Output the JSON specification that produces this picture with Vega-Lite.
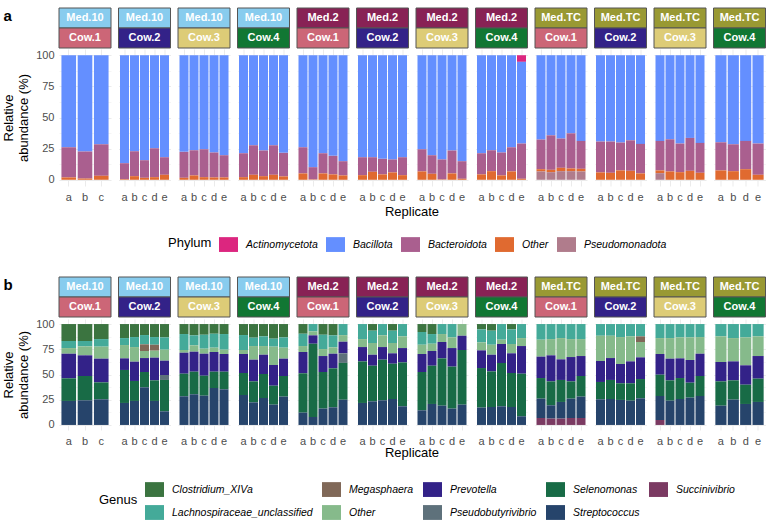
{
  "$schema": "https://vega.github.io/schema/vega-lite/v6.json",
  "padding": {"left": 2, "top": 7, "right": 5, "bottom": 0},
  "config": {
    "font": "Liberation Sans",
    "view": {"stroke": null},
    "axis": {"labelColor": "#4D4D4D", "labelFontSize": 11, "ticks": false, "domain": false, "gridColor": "#EBEBEB", "titleFontWeight": "normal", "titleColor": "#000000", "titleFontSize": 13},
    "legend": {"labelFontSize": 10.5, "labelFontStyle": "italic", "labelColor": "#000000", "titleFontWeight": "normal", "titleFontSize": 13, "titleColor": "#000000", "titlePadding": 7, "symbolType": "M-1,-0.78H1V0.78H-1Z", "symbolSize": 361, "symbolStrokeWidth": 0, "symbolOpacity": 1},
    "header": {"titleFontWeight": "normal", "titleFontSize": 13, "titleColor": "#000000"}
  },
  "datasets": {
    "phy": [
      {"m":"Med.10","c":"Cow.1","r":"a","Bacillota":73.9,"Bacteroidota":24.2,"Other":1.9},
      {"m":"Med.10","c":"Cow.1","r":"b","Bacillota":77.3,"Bacteroidota":21.7,"Other":1.0},
      {"m":"Med.10","c":"Cow.1","r":"c","Bacillota":71.5,"Bacteroidota":25.3,"Other":3.2},
      {"m":"Med.10","c":"Cow.2","r":"a","Bacillota":86.7,"Bacteroidota":12.8,"Other":0.5},
      {"m":"Med.10","c":"Cow.2","r":"b","Bacillota":77.1,"Bacteroidota":20.0,"Other":2.9},
      {"m":"Med.10","c":"Cow.2","r":"c","Bacillota":84.3,"Bacteroidota":14.1,"Other":1.6},
      {"m":"Med.10","c":"Cow.2","r":"d","Bacillota":74.7,"Bacteroidota":23.2,"Other":2.1},
      {"m":"Med.10","c":"Cow.2","r":"e","Bacillota":81.9,"Bacteroidota":14.1,"Other":4.0},
      {"m":"Med.10","c":"Cow.3","r":"a","Bacillota":77.6,"Bacteroidota":20.8,"Other":1.6},
      {"m":"Med.10","c":"Cow.3","r":"b","Bacillota":76.3,"Bacteroidota":20.2,"Other":3.5},
      {"m":"Med.10","c":"Cow.3","r":"c","Bacillota":75.5,"Bacteroidota":22.4,"Other":2.1},
      {"m":"Med.10","c":"Cow.3","r":"d","Bacillota":78.1,"Bacteroidota":20.0,"Other":1.9},
      {"m":"Med.10","c":"Cow.3","r":"e","Bacillota":80.3,"Bacteroidota":17.8,"Other":1.9},
      {"m":"Med.10","c":"Cow.4","r":"a","Bacillota":78.7,"Bacteroidota":19.2,"Other":2.1},
      {"m":"Med.10","c":"Cow.4","r":"b","Bacillota":72.3,"Bacteroidota":23.7,"Other":4.0},
      {"m":"Med.10","c":"Cow.4","r":"c","Bacillota":76.5,"Bacteroidota":20.6,"Other":2.9},
      {"m":"Med.10","c":"Cow.4","r":"d","Bacillota":72.3,"Bacteroidota":23.7,"Other":4.0},
      {"m":"Med.10","c":"Cow.4","r":"e","Bacillota":78.4,"Bacteroidota":18.9,"Other":2.7},
      {"m":"Med.2","c":"Cow.1","r":"a","Bacillota":73.9,"Bacteroidota":21.0,"Other":5.1},
      {"m":"Med.2","c":"Cow.1","r":"b","Bacillota":89.9,"Bacteroidota":9.8,"Other":0.3},
      {"m":"Med.2","c":"Cow.1","r":"c","Bacillota":78.7,"Bacteroidota":16.2,"Other":5.1},
      {"m":"Med.2","c":"Cow.1","r":"d","Bacillota":80.8,"Bacteroidota":14.9,"Other":4.3},
      {"m":"Med.2","c":"Cow.1","r":"e","Bacillota":85.1,"Bacteroidota":11.4,"Other":3.5},
      {"m":"Med.2","c":"Cow.2","r":"a","Bacillota":81.9,"Bacteroidota":14.4,"Other":3.7},
      {"m":"Med.2","c":"Cow.2","r":"b","Bacillota":81.9,"Bacteroidota":11.7,"Other":6.4},
      {"m":"Med.2","c":"Cow.2","r":"c","Bacillota":83.2,"Bacteroidota":12.5,"Other":4.3},
      {"m":"Med.2","c":"Cow.2","r":"d","Bacillota":83.7,"Bacteroidota":10.4,"Other":5.9},
      {"m":"Med.2","c":"Cow.2","r":"e","Bacillota":81.9,"Bacteroidota":14.4,"Other":3.7},
      {"m":"Med.2","c":"Cow.3","r":"a","Bacillota":75.5,"Bacteroidota":17.8,"Other":6.7},
      {"m":"Med.2","c":"Cow.3","r":"b","Bacillota":80.3,"Bacteroidota":14.9,"Other":4.8},
      {"m":"Med.2","c":"Cow.3","r":"c","Bacillota":83.7,"Bacteroidota":16.0,"Other":0.3},
      {"m":"Med.2","c":"Cow.3","r":"d","Bacillota":76.5,"Bacteroidota":18.4,"Other":5.1},
      {"m":"Med.2","c":"Cow.3","r":"e","Bacillota":85.1,"Bacteroidota":14.1,"Other":0.8},
      {"m":"Med.2","c":"Cow.4","r":"a","Bacillota":78.7,"Bacteroidota":17.0,"Other":4.3},
      {"m":"Med.2","c":"Cow.4","r":"b","Bacillota":76.3,"Bacteroidota":16.8,"Other":6.9},
      {"m":"Med.2","c":"Cow.4","r":"c","Bacillota":78.1,"Bacteroidota":18.4,"Other":3.5},
      {"m":"Med.2","c":"Cow.4","r":"d","Bacillota":73.9,"Bacteroidota":19.4,"Other":6.7},
      {"m":"Med.2","c":"Cow.4","r":"e","Actinomycetota":5.3,"Bacillota":65.6,"Bacteroidota":28.3,"Other":0.8},
      {"m":"Med.TC","c":"Cow.1","r":"a","Bacillota":67.7,"Bacteroidota":23.8,"Other":1.8,"Pseudomonadota":6.7},
      {"m":"Med.TC","c":"Cow.1","r":"b","Bacillota":64.3,"Bacteroidota":27.7,"Other":1.9,"Pseudomonadota":6.1},
      {"m":"Med.TC","c":"Cow.1","r":"c","Bacillota":66.9,"Bacteroidota":23.5,"Other":2.7,"Pseudomonadota":6.9},
      {"m":"Med.TC","c":"Cow.1","r":"d","Bacillota":62.7,"Bacteroidota":28.2,"Other":2.2,"Pseudomonadota":6.9},
      {"m":"Med.TC","c":"Cow.1","r":"e","Bacillota":68.8,"Bacteroidota":22.4,"Other":2.1,"Pseudomonadota":6.7},
      {"m":"Med.TC","c":"Cow.2","r":"a","Bacillota":69.3,"Bacteroidota":24.8,"Other":5.9},
      {"m":"Med.TC","c":"Cow.2","r":"b","Bacillota":69.3,"Bacteroidota":25.1,"Other":5.6},
      {"m":"Med.TC","c":"Cow.2","r":"c","Bacillota":70.1,"Bacteroidota":22.4,"Other":7.5},
      {"m":"Med.TC","c":"Cow.2","r":"d","Bacillota":68.3,"Bacteroidota":24.5,"Other":7.2},
      {"m":"Med.TC","c":"Cow.2","r":"e","Bacillota":71.2,"Bacteroidota":23.7,"Other":5.1},
      {"m":"Med.TC","c":"Cow.3","r":"a","Bacillota":68.8,"Bacteroidota":23.7,"Other":2.2,"Pseudomonadota":5.3},
      {"m":"Med.TC","c":"Cow.3","r":"b","Bacillota":67.5,"Bacteroidota":25.8,"Other":6.7},
      {"m":"Med.TC","c":"Cow.3","r":"c","Bacillota":70.9,"Bacteroidota":23.0,"Other":6.1},
      {"m":"Med.TC","c":"Cow.3","r":"d","Bacillota":66.4,"Bacteroidota":26.4,"Other":7.2},
      {"m":"Med.TC","c":"Cow.3","r":"e","Bacillota":70.4,"Bacteroidota":24.0,"Other":5.6},
      {"m":"Med.TC","c":"Cow.4","r":"a","Bacillota":69.9,"Bacteroidota":22.6,"Other":7.5},
      {"m":"Med.TC","c":"Cow.4","r":"b","Bacillota":71.5,"Bacteroidota":21.6,"Other":6.9},
      {"m":"Med.TC","c":"Cow.4","r":"d","Bacillota":68.8,"Bacteroidota":22.7,"Other":8.5},
      {"m":"Med.TC","c":"Cow.4","r":"e","Bacillota":70.9,"Bacteroidota":25.1,"Other":4.0}
    ],
    "gen": [
      {"m":"Med.10","c":"Cow.1","r":"a","Streptococcus":23.8,"Selenomonas":22.4,"Prevotella":24.4,"Other":5.6,"Lachnospiraceae_unclassified":7.0,"Clostridium_XIVa":16.8},
      {"m":"Med.10","c":"Cow.1","r":"b","Streptococcus":24.4,"Selenomonas":24.1,"Prevotella":20.5,"Other":8.9,"Lachnospiraceae_unclassified":5.3,"Clostridium_XIVa":16.8},
      {"m":"Med.10","c":"Cow.1","r":"c","Streptococcus":25.4,"Selenomonas":16.8,"Prevotella":23.5,"Other":11.9,"Lachnospiraceae_unclassified":7.5,"Clostridium_XIVa":14.9},
      {"m":"Med.10","c":"Cow.2","r":"a","Streptococcus":21.8,"Selenomonas":32.7,"Prevotella":11.5,"Other":13.2,"Lachnospiraceae_unclassified":6.9,"Clostridium_XIVa":13.9},
      {"m":"Med.10","c":"Cow.2","r":"b","Streptococcus":23.8,"Selenomonas":19.8,"Prevotella":19.1,"Other":14.5,"Lachnospiraceae_unclassified":9.9,"Clostridium_XIVa":12.9},
      {"m":"Med.10","c":"Cow.2","r":"c","Streptococcus":37.3,"Selenomonas":15.2,"Prevotella":13.8,"Other":7.0,"Megasphaera":6.6,"Lachnospiraceae_unclassified":9.2,"Clostridium_XIVa":10.9},
      {"m":"Med.10","c":"Cow.2","r":"d","Streptococcus":23.8,"Selenomonas":20.4,"Prevotella":22.5,"Other":6.9,"Megasphaera":5.9,"Lachnospiraceae_unclassified":7.6,"Clostridium_XIVa":12.9},
      {"m":"Med.10","c":"Cow.2","r":"e","Streptococcus":13.5,"Selenomonas":31.1,"Pseudobutyrivibrio":4.9,"Prevotella":14.2,"Other":10.9,"Lachnospiraceae_unclassified":12.2,"Clostridium_XIVa":13.2},
      {"m":"Med.10","c":"Cow.3","r":"a","Streptococcus":28.4,"Selenomonas":22.4,"Prevotella":20.8,"Other":2.7,"Lachnospiraceae_unclassified":15.8,"Clostridium_XIVa":9.9},
      {"m":"Med.10","c":"Cow.3","r":"b","Streptococcus":30.4,"Selenomonas":22.4,"Prevotella":19.8,"Other":6.3,"Lachnospiraceae_unclassified":9.9,"Clostridium_XIVa":11.2},
      {"m":"Med.10","c":"Cow.3","r":"c","Streptococcus":29.0,"Selenomonas":19.8,"Prevotella":21.8,"Other":5.0,"Lachnospiraceae_unclassified":13.8,"Clostridium_XIVa":10.6},
      {"m":"Med.10","c":"Cow.3","r":"d","Streptococcus":36.6,"Selenomonas":16.2,"Prevotella":19.5,"Other":4.3,"Lachnospiraceae_unclassified":13.8,"Clostridium_XIVa":9.6},
      {"m":"Med.10","c":"Cow.3","r":"e","Streptococcus":35.3,"Selenomonas":17.5,"Prevotella":17.5,"Other":4.3,"Lachnospiraceae_unclassified":15.5,"Clostridium_XIVa":9.9},
      {"m":"Med.10","c":"Cow.4","r":"a","Streptococcus":29.7,"Selenomonas":21.8,"Prevotella":18.8,"Other":4.0,"Lachnospiraceae_unclassified":14.8,"Clostridium_XIVa":10.9},
      {"m":"Med.10","c":"Cow.4","r":"b","Streptococcus":22.4,"Selenomonas":20.8,"Prevotella":21.5,"Other":13.5,"Lachnospiraceae_unclassified":8.3,"Clostridium_XIVa":13.5},
      {"m":"Med.10","c":"Cow.4","r":"c","Streptococcus":26.7,"Selenomonas":23.8,"Prevotella":19.1,"Other":8.6,"Lachnospiraceae_unclassified":9.6,"Clostridium_XIVa":12.2},
      {"m":"Med.10","c":"Cow.4","r":"d","Streptococcus":20.1,"Selenomonas":18.8,"Prevotella":20.5,"Other":18.2,"Lachnospiraceae_unclassified":7.9,"Clostridium_XIVa":14.5},
      {"m":"Med.10","c":"Cow.4","r":"e","Streptococcus":28.1,"Selenomonas":20.4,"Prevotella":17.2,"Other":10.9,"Lachnospiraceae_unclassified":10.2,"Clostridium_XIVa":13.2},
      {"m":"Med.2","c":"Cow.1","r":"a","Streptococcus":12.2,"Selenomonas":39.0,"Prevotella":21.1,"Other":5.9,"Lachnospiraceae_unclassified":12.2,"Clostridium_XIVa":9.6},
      {"m":"Med.2","c":"Cow.1","r":"b","Streptococcus":7.9,"Selenomonas":72.6,"Prevotella":8.3,"Other":3.9,"Lachnospiraceae_unclassified":7.3},
      {"m":"Med.2","c":"Cow.1","r":"c","Streptococcus":16.2,"Selenomonas":36.3,"Prevotella":15.8,"Other":6.9,"Lachnospiraceae_unclassified":14.2,"Clostridium_XIVa":10.6},
      {"m":"Med.2","c":"Cow.1","r":"d","Streptococcus":17.5,"Selenomonas":38.6,"Prevotella":14.5,"Other":6.3,"Lachnospiraceae_unclassified":11.9,"Clostridium_XIVa":11.2},
      {"m":"Med.2","c":"Cow.1","r":"e","Streptococcus":25.0,"Selenomonas":36.5,"Pseudobutyrivibrio":9.5,"Prevotella":11.5,"Other":6.5,"Lachnospiraceae_unclassified":11.0},
      {"m":"Med.2","c":"Cow.2","r":"a","Streptococcus":21.8,"Selenomonas":41.2,"Prevotella":14.2,"Other":7.9,"Lachnospiraceae_unclassified":14.9},
      {"m":"Med.2","c":"Cow.2","r":"b","Streptococcus":23.4,"Selenomonas":35.3,"Prevotella":10.9,"Other":11.6,"Lachnospiraceae_unclassified":12.2,"Clostridium_XIVa":6.6},
      {"m":"Med.2","c":"Cow.2","r":"c","Streptococcus":24.4,"Selenomonas":40.3,"Prevotella":12.5,"Other":11.6,"Lachnospiraceae_unclassified":11.2},
      {"m":"Med.2","c":"Cow.2","r":"d","Streptococcus":25.7,"Selenomonas":35.0,"Prevotella":10.3,"Other":10.2,"Lachnospiraceae_unclassified":12.2,"Clostridium_XIVa":6.6},
      {"m":"Med.2","c":"Cow.2","r":"e","Streptococcus":18.5,"Selenomonas":43.5,"Prevotella":14.2,"Other":11.6,"Lachnospiraceae_unclassified":12.2},
      {"m":"Med.2","c":"Cow.3","r":"a","Streptococcus":14.5,"Selenomonas":38.0,"Prevotella":17.8,"Other":9.2,"Lachnospiraceae_unclassified":12.6,"Clostridium_XIVa":7.9},
      {"m":"Med.2","c":"Cow.3","r":"b","Streptococcus":20.8,"Selenomonas":37.9,"Prevotella":14.6,"Other":7.2,"Lachnospiraceae_unclassified":9.6,"Clostridium_XIVa":9.9},
      {"m":"Med.2","c":"Cow.3","r":"c","Streptococcus":19.1,"Selenomonas":46.9,"Prevotella":16.2,"Other":7.9,"Lachnospiraceae_unclassified":9.9},
      {"m":"Med.2","c":"Cow.3","r":"d","Streptococcus":16.2,"Selenomonas":41.6,"Prevotella":18.4,"Other":10.6,"Lachnospiraceae_unclassified":13.2},
      {"m":"Med.2","c":"Cow.3","r":"e","Streptococcus":20.1,"Selenomonas":54.2,"Prevotella":14.1,"Other":11.6},
      {"m":"Med.2","c":"Cow.4","r":"a","Streptococcus":17.2,"Selenomonas":39.2,"Prevotella":17.5,"Other":7.9,"Lachnospiraceae_unclassified":12.9,"Clostridium_XIVa":5.3},
      {"m":"Med.2","c":"Cow.4","r":"b","Streptococcus":17.8,"Selenomonas":35.3,"Prevotella":16.5,"Other":9.9,"Lachnospiraceae_unclassified":13.9,"Clostridium_XIVa":6.6},
      {"m":"Med.2","c":"Cow.4","r":"c","Streptococcus":18.5,"Selenomonas":42.9,"Prevotella":18.8,"Other":4.3,"Lachnospiraceae_unclassified":15.5},
      {"m":"Med.2","c":"Cow.4","r":"d","Streptococcus":17.8,"Selenomonas":33.7,"Prevotella":19.5,"Other":9.2,"Lachnospiraceae_unclassified":14.5,"Clostridium_XIVa":5.3},
      {"m":"Med.2","c":"Cow.4","r":"e","Streptococcus":8.6,"Selenomonas":42.2,"Prevotella":27.4,"Other":7.9,"Lachnospiraceae_unclassified":13.9},
      {"m":"Med.TC","c":"Cow.1","r":"a","Succinivibrio":6.9,"Streptococcus":19.2,"Selenomonas":20.4,"Prevotella":21.2,"Other":16.8,"Lachnospiraceae_unclassified":15.5},
      {"m":"Med.TC","c":"Cow.1","r":"b","Succinivibrio":6.3,"Streptococcus":13.2,"Selenomonas":23.7,"Prevotella":25.8,"Other":16.1,"Lachnospiraceae_unclassified":14.9},
      {"m":"Med.TC","c":"Cow.1","r":"c","Succinivibrio":6.3,"Streptococcus":16.5,"Selenomonas":21.8,"Prevotella":20.4,"Other":21.1,"Lachnospiraceae_unclassified":13.9},
      {"m":"Med.TC","c":"Cow.1","r":"d","Succinivibrio":6.9,"Streptococcus":19.2,"Selenomonas":17.1,"Prevotella":24.1,"Other":17.8,"Lachnospiraceae_unclassified":14.9},
      {"m":"Med.TC","c":"Cow.1","r":"e","Succinivibrio":6.9,"Streptococcus":21.2,"Selenomonas":20.4,"Prevotella":19.8,"Other":16.8,"Lachnospiraceae_unclassified":14.9},
      {"m":"Med.TC","c":"Cow.2","r":"a","Streptococcus":25.4,"Selenomonas":17.2,"Prevotella":20.8,"Other":25.0,"Lachnospiraceae_unclassified":11.6},
      {"m":"Med.TC","c":"Cow.2","r":"b","Streptococcus":25.7,"Selenomonas":18.9,"Prevotella":21.7,"Other":22.1,"Lachnospiraceae_unclassified":11.6},
      {"m":"Med.TC","c":"Cow.2","r":"c","Streptococcus":24.8,"Selenomonas":16.5,"Prevotella":19.1,"Other":26.7,"Lachnospiraceae_unclassified":12.9},
      {"m":"Med.TC","c":"Cow.2","r":"d","Streptococcus":24.1,"Selenomonas":17.2,"Prevotella":21.7,"Other":24.8,"Lachnospiraceae_unclassified":12.2},
      {"m":"Med.TC","c":"Cow.2","r":"e","Streptococcus":26.4,"Selenomonas":19.1,"Prevotella":21.5,"Other":15.2,"Megasphaera":5.6,"Lachnospiraceae_unclassified":12.2},
      {"m":"Med.TC","c":"Cow.3","r":"a","Succinivibrio":4.9,"Streptococcus":23.8,"Selenomonas":21.1,"Prevotella":20.5,"Other":15.8,"Lachnospiraceae_unclassified":13.9},
      {"m":"Med.TC","c":"Cow.3","r":"b","Streptococcus":24.1,"Selenomonas":20.1,"Prevotella":21.5,"Other":20.4,"Lachnospiraceae_unclassified":13.9},
      {"m":"Med.TC","c":"Cow.3","r":"c","Streptococcus":25.7,"Selenomonas":20.8,"Prevotella":19.5,"Other":20.8,"Lachnospiraceae_unclassified":13.2},
      {"m":"Med.TC","c":"Cow.3","r":"d","Streptococcus":27.1,"Selenomonas":14.8,"Prevotella":22.5,"Other":22.4,"Lachnospiraceae_unclassified":13.2},
      {"m":"Med.TC","c":"Cow.3","r":"e","Streptococcus":28.7,"Selenomonas":19.8,"Prevotella":22.1,"Other":16.5,"Lachnospiraceae_unclassified":12.9},
      {"m":"Med.TC","c":"Cow.4","r":"a","Streptococcus":19.1,"Selenomonas":24.1,"Prevotella":19.2,"Other":25.4,"Lachnospiraceae_unclassified":12.2},
      {"m":"Med.TC","c":"Cow.4","r":"b","Streptococcus":25.1,"Selenomonas":19.1,"Prevotella":18.8,"Other":23.1,"Lachnospiraceae_unclassified":13.9},
      {"m":"Med.TC","c":"Cow.4","r":"d","Streptococcus":20.8,"Selenomonas":19.1,"Prevotella":19.2,"Other":27.7,"Lachnospiraceae_unclassified":13.2},
      {"m":"Med.TC","c":"Cow.4","r":"e","Streptococcus":22.8,"Selenomonas":23.1,"Prevotella":22.4,"Other":19.5,"Lachnospiraceae_unclassified":12.2}
    ]
  },
  "vconcat": [
    {
      "spacing": 0,
      "resolve": {"scale": {"y": "independent", "x": "independent"}},
      "vconcat": [
        {
          "data": {"name": "phy"},
          "transform": [
            {"calculate": "datum.m + ' ' + datum.c", "as": "p"},
            {"aggregate": [{"op": "count", "as": "n"}], "groupby": ["p", "m", "c"]},
            {"fold": ["m", "c"], "as": ["lvl", "lab"]}
          ],
          "facet": {"column": {"field": "p", "type": "nominal", "title": null, "header": {"labels": false}}},
          "spacing": 5.5,
          "spec": {
            "width": 52,
            "height": 40,
            "encoding": {
              "y": {"field": "lvl", "type": "nominal", "sort": ["m", "c"], "scale": {"paddingInner": 0, "paddingOuter": 0},
                "axis": {"labels": false, "ticks": false, "domain": false, "grid": false, "title": "a", "titleAngle": 0, "titleFontSize": 15, "titleFontWeight": "bold", "titleAlign": "left", "titleBaseline": "top", "titleAnchor": "start", "titlePadding": 55, "minExtent": 0, "maxExtent": 0}}
            },
            "layer": [
              {"mark": {"type": "rect", "stroke": "#555555", "strokeWidth": 1},
               "encoding": {"fill": {"field": "lab", "type": "nominal", "legend": null,
                 "scale": {"domain": ["Med.10", "Med.2", "Med.TC", "Cow.1", "Cow.2", "Cow.3", "Cow.4"], "range": ["#88CCEE", "#882255", "#999933", "#CC6677", "#332288", "#DDCC77", "#117733"]}}}},
              {"mark": {"type": "text", "color": "#FFFFFF", "fontWeight": "bold", "fontSize": 11},
               "encoding": {"text": {"field": "lab", "type": "nominal"}}}
            ]
          }
        },
        {
          "data": {"name": "phy"},
          "transform": [
            {"calculate": "datum.m + ' ' + datum.c", "as": "p"},
            {"fold": ["Actinomycetota", "Bacillota", "Bacteroidota", "Other", "Pseudomonadota"], "as": ["Phylum", "v"]},
            {"filter": "isValid(datum.v)"}
          ],
          "facet": {"column": {"field": "p", "type": "nominal", "title": "Replicate", "header": {"labels": false, "titleOrient": "bottom", "titlePadding": -6}}},
          "spacing": 7.5,
          "resolve": {"scale": {"x": "independent"}},
          "spec": {
            "width": 52,
            "height": 137,
            "mark": {"type": "bar"},
            "encoding": {
              "x": {"field": "r", "type": "nominal", "scale": {"paddingInner": 0.1, "paddingOuter": 0.15},
                "axis": {"title": null, "labelAngle": 0, "grid": true, "bandPosition": 0.5, "labelPadding": 5}},
              "y": {"field": "v", "type": "quantitative", "stack": "zero", "scale": {"domain": [-5, 105], "nice": false, "zero": false},
                "axis": {"values": [0, 12.5, 25, 37.5, 50, 62.5, 75, 87.5, 100], "labelExpr": "datum.value % 25 === 0 ? datum.label : ''", "gridWidth": {"condition": {"test": "datum.value % 25 === 0", "value": 1}, "value": 0.5}, "labelPadding": 5, "title": ["Relative", "abundance (%)"], "titlePadding": 5, "titleLineHeight": 15}},
              "color": {"field": "Phylum", "type": "nominal",
                "scale": {"domain": ["Actinomycetota", "Bacillota", "Bacteroidota", "Other", "Pseudomonadota"], "range": ["#DC267F", "#648FFF", "#AA5F8F", "#E06A30", "#B07C8C"]},
                "legend": {"title": "Phylum", "orient": "none", "legendX": 109, "legendY": 227, "direction": "horizontal", "columns": 5, "titleOrient": "left", "titleBaseline": "middle", "titleAnchor": "middle", "columnPadding": 8, "labelOffset": 8}},
              "order": {"field": "Phylum", "sort": "descending"}
            }
          }
        }
      ]
    },
    {
      "spacing": 0,
      "resolve": {"scale": {"y": "independent", "x": "independent"}},
      "vconcat": [
        {
          "data": {"name": "gen"},
          "transform": [
            {"calculate": "datum.m + ' ' + datum.c", "as": "p"},
            {"aggregate": [{"op": "count", "as": "n"}], "groupby": ["p", "m", "c"]},
            {"fold": ["m", "c"], "as": ["lvl", "lab"]}
          ],
          "facet": {"column": {"field": "p", "type": "nominal", "title": null, "header": {"labels": false}}},
          "spacing": 5.5,
          "spec": {
            "width": 52,
            "height": 40,
            "encoding": {
              "y": {"field": "lvl", "type": "nominal", "sort": ["m", "c"], "scale": {"paddingInner": 0, "paddingOuter": 0},
                "axis": {"labels": false, "ticks": false, "domain": false, "grid": false, "title": "b", "titleAngle": 0, "titleFontSize": 15, "titleFontWeight": "bold", "titleAlign": "left", "titleBaseline": "top", "titleAnchor": "start", "titlePadding": 55, "minExtent": 0, "maxExtent": 0}}
            },
            "layer": [
              {"mark": {"type": "rect", "stroke": "#555555", "strokeWidth": 1},
               "encoding": {"fill": {"field": "lab", "type": "nominal", "legend": null,
                 "scale": {"domain": ["Med.10", "Med.2", "Med.TC", "Cow.1", "Cow.2", "Cow.3", "Cow.4"], "range": ["#88CCEE", "#882255", "#999933", "#CC6677", "#332288", "#DDCC77", "#117733"]}}}},
              {"mark": {"type": "text", "color": "#FFFFFF", "fontWeight": "bold", "fontSize": 11},
               "encoding": {"text": {"field": "lab", "type": "nominal"}}}
            ]
          }
        },
        {
          "data": {"name": "gen"},
          "transform": [
            {"calculate": "datum.m + ' ' + datum.c", "as": "p"},
            {"fold": ["Clostridium_XIVa", "Lachnospiraceae_unclassified", "Megasphaera", "Other", "Prevotella", "Pseudobutyrivibrio", "Selenomonas", "Streptococcus", "Succinivibrio"], "as": ["Genus", "v"]},
            {"filter": "isValid(datum.v)"}
          ],
          "facet": {"column": {"field": "p", "type": "nominal", "title": "Replicate", "header": {"labels": false, "titleOrient": "bottom", "titlePadding": -9}}},
          "spacing": 7.5,
          "resolve": {"scale": {"x": "independent"}},
          "spec": {
            "width": 52,
            "height": 111,
            "mark": {"type": "bar"},
            "encoding": {
              "x": {"field": "r", "type": "nominal", "scale": {"paddingInner": 0.1, "paddingOuter": 0.15},
                "axis": {"title": null, "labelAngle": 0, "grid": true, "bandPosition": 0.5, "labelPadding": 5}},
              "y": {"field": "v", "type": "quantitative", "stack": "zero", "scale": {"domain": [-5, 105], "nice": false, "zero": false},
                "axis": {"values": [0, 12.5, 25, 37.5, 50, 62.5, 75, 87.5, 100], "labelExpr": "datum.value % 25 === 0 ? datum.label : ''", "gridWidth": {"condition": {"test": "datum.value % 25 === 0", "value": 1}, "value": 0.5}, "labelPadding": 5, "title": ["Relative", "abundance (%)"], "titlePadding": 5, "titleLineHeight": 15}},
              "color": {"field": "Genus", "type": "nominal",
                "scale": {"domain": ["Clostridium_XIVa", "Megasphaera", "Prevotella", "Selenomonas", "Succinivibrio", "Lachnospiraceae_unclassified", "Other", "Pseudobutyrivibrio", "Streptococcus"], "range": ["#3B7440", "#806858", "#332288", "#186B46", "#7B3A62", "#44AA99", "#86BA8B", "#5E717B", "#26446B"]},
                "legend": {"title": "Genus", "orient": "none", "legendX": 40, "legendY": 203, "direction": "horizontal", "columns": 5, "titleOrient": "left", "titleBaseline": "middle", "titleAnchor": "middle", "columnPadding": 9, "rowPadding": 6, "labelOffset": 8}},
              "order": {"field": "Genus", "sort": "descending"}
            }
          }
        }
      ]
    }
  ],
  "spacing": 24,
  "resolve": {"scale": {"color": "independent", "y": "independent", "x": "independent"}, "legend": {"color": "independent"}}
}
